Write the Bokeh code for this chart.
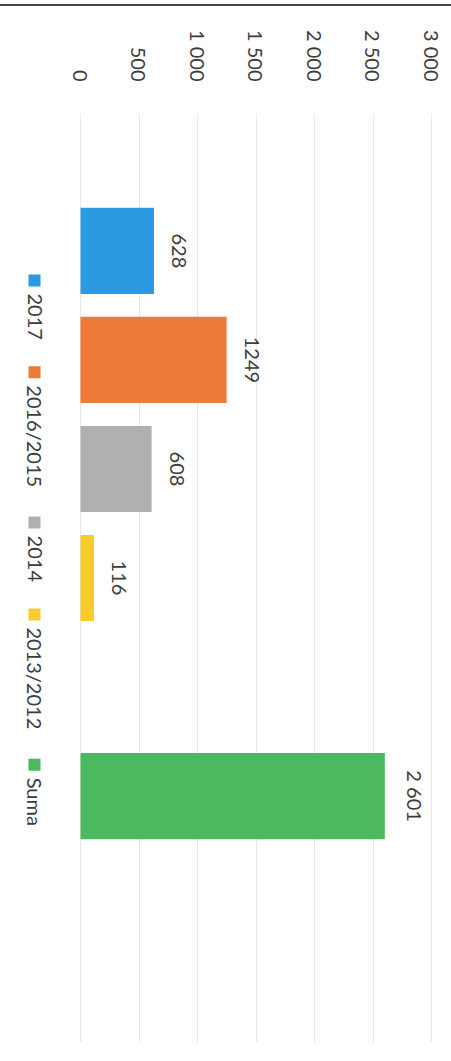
import math
from bokeh.plotting import figure
from bokeh.models import Range1d, FixedTicker, ColumnDataSource
from bokeh.core.properties import value
from bokeh.embed import file_html
from bokeh.resources import INLINE

# ---- data ----
series = ["2017", "2016/2015", "2014", "2013/2012", "Suma"]
values = [628, 1249, 608, 116, 2601]
value_labels = ["628", "1249", "608", "116", "2 601"]
colors = ["#2B9AE2", "#EE7A3A", "#B0B0B0", "#F7CC30", "#4CB960"]
# cluster slots of the original chart (two hidden, empty series)
slots = ["2017", "2016/2015", "2014", "2013/2012", "", "Suma", " "]
tick_values = [0, 500, 1000, 1500, 2000, 2500, 3000]
tick_labels = ["0", "500", "1 000", "1 500", "2 000", "2 500", "3 000"]

FONT = "Lato"
FSIZE = "20px"
TXT = "#3c3c3c"

W, H = 451, 1055          # canvas; plus 4px margin and 2px rule on top
TOP_B, BOT_B = 107, 19
FRAME_H = H - TOP_B - BOT_B
PX_PER_UNIT = 351 / 3000
X0 = -80 / PX_PER_UNIT
X1 = (W - 80) / PX_PER_UNIT
Y_TOP, Y_BOT = -1.26, 7.26

p = figure(width=W, height=H, output_backend="svg", toolbar_location=None,
           x_range=Range1d(X0, X1), y_range=Range1d(Y_BOT, Y_TOP),
           x_axis_location="above", y_axis_location=None,
           min_border_left=0, min_border_right=0,
           min_border_top=TOP_B, min_border_bottom=BOT_B)
p.styles = {"border-top": "2px solid #444444", "margin-top": "4px"}
p.outline_line_color = None
p.background_fill_color = "white"
p.border_fill_color = "white"

ax = p.xaxis[0]
ax.ticker = FixedTicker(ticks=tick_values)
ax.major_label_overrides = {v: l for v, l in zip(tick_values, tick_labels)}
ax.major_label_orientation = -math.pi / 2
ax.axis_line_color = None
ax.major_tick_line_color = None
ax.minor_tick_line_color = None
ax.major_tick_out = 0
ax.major_tick_in = 0
ax.major_label_standoff = 32
ax.major_label_text_font = FONT
ax.major_label_text_font_size = FSIZE
ax.major_label_text_color = TXT

p.xgrid.grid_line_color = "#e8e8e8"
p.xgrid.grid_line_width = 1
p.ygrid.grid_line_color = None

ypos = [slots.index(s) for s in series]
src = ColumnDataSource(dict(y=ypos, v=values, lab=value_labels, c=colors, name=series))

p.hbar(y="y", left=0, right="v", height=0.79, fill_color="c", line_color=None, source=src)
p.text(x="v", y="y", text="lab", angle=-math.pi / 2, text_align="center",
       text_baseline="bottom", x_offset=18, text_font=value(FONT),
       text_font_size=FSIZE, text_color=TXT, source=src)

# ---- legend (rotated like the rest of the page), laid out item by item ----
def y_of(px):
    return Y_TOP + px / FRAME_H * (Y_BOT - Y_TOP)

leg_x = X0 + 34 / PX_PER_UNIT
start = 161.0
sq_y, tx_y = [], []
for s in series:
    sq_y.append(y_of(start + 6))
    tx_y.append(y_of(start + 19))
    start += 19 + len(s) * 11.7 + 26

p.scatter(x=[leg_x] * len(series), y=sq_y, marker="square", size=12,
          fill_color=colors, line_color=None)
p.text(x=[leg_x + 6 / PX_PER_UNIT * 0] * len(series), y=tx_y, text=series,
       angle=-math.pi / 2, text_align="left", text_baseline="middle",
       text_font=value(FONT), text_font_size=FSIZE, text_color=TXT)

open("out.html", "w").write(file_html(p, INLINE))
